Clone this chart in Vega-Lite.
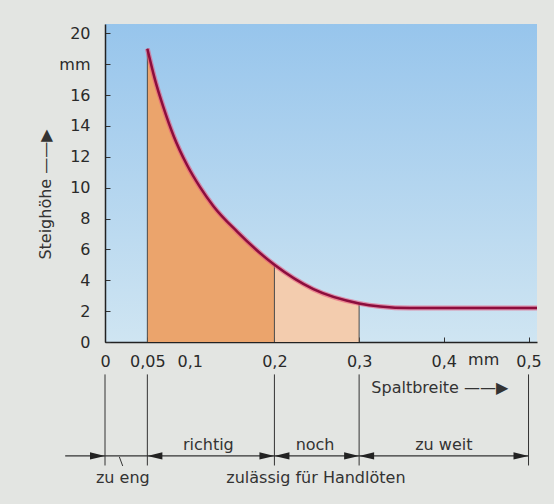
{
  "$schema": "https://vega.github.io/schema/vega-lite/v6.json",
  "width": 432,
  "height": 318,
  "autosize": {"type": "none"},
  "padding": {"left": 105, "top": 24, "right": 17, "bottom": 162},
  "background": "#e3e5e2",
  "config": {
    "font": "DejaVu Sans",
    "view": {"stroke": null},
    "axis": {"labelOverlap": false, "labelBound": false, "labelFlush": false},
    "axisY": {"labelOverlap": false, "tickCount": 11},
    "axisQuantitative": {"labelOverlap": false}
  },
  "view": {
    "stroke": null,
    "fill": {
      "gradient": "linear", "x1": 0, "y1": 0, "x2": 0, "y2": 1,
      "stops": [{"offset": 0, "color": "#97c5ec"}, {"offset": 1, "color": "#cfe5f2"}]
    }
  },
  "datasets": {
    "curve": [
      {"x": 0.05, "y": 19.0}, {"x": 0.059, "y": 17.0}, {"x": 0.069, "y": 15.2},
      {"x": 0.081, "y": 13.35}, {"x": 0.097, "y": 11.45}, {"x": 0.112, "y": 10.05},
      {"x": 0.128, "y": 8.8}, {"x": 0.156, "y": 7.15}, {"x": 0.2, "y": 5.0},
      {"x": 0.246, "y": 3.42}, {"x": 0.3, "y": 2.5}, {"x": 0.325, "y": 2.3},
      {"x": 0.36, "y": 2.2}, {"x": 0.4, "y": 2.2}, {"x": 0.45, "y": 2.2}, {"x": 0.51, "y": 2.2}
    ],
    "bounds": [{"x": 0.05, "y": 19.0}, {"x": 0.2, "y": 5.0}, {"x": 0.3, "y": 2.5}],
    "below": [{"x": 0}, {"x": 0.05}, {"x": 0.2}, {"x": 0.3}, {"x": 0.5}],
    "arrows": [
      {"x": 0, "dir": "r"}, {"x": 0.05, "dir": "l"}, {"x": 0.2, "dir": "r"},
      {"x": 0.2, "dir": "l"}, {"x": 0.3, "dir": "r"}, {"x": 0.3, "dir": "l"}, {"x": 0.5, "dir": "r"}
    ],
    "upper": [{"label": "richtig", "x": 0.122}, {"label": "noch", "x": 0.248}, {"label": "zu weit", "x": 0.4}],
    "lower": [{"label": "zu eng", "x": 0.021}, {"label": "zulässig für Handlöten", "x": 0.249}]
  },
  "layer": [
    {
      "data": {"name": "curve"},
      "transform": [{"filter": "datum.x <= 0.2"}],
      "mark": {"type": "area", "color": "#eba46c", "interpolate": "monotone", "opacity": 1},
      "encoding": {
        "x": {
          "field": "x", "type": "quantitative",
          "scale": {"domain": [0, 0.51], "nice": false, "zero": false},
          "axis": {
            "values": [0, 0.05, 0.1, 0.2, 0.3, 0.4, 0.5], "format": ".2~f",
            "labelExpr": "replace(datum.label, '.', ',')", "title": null, "grid": false,
            "domainColor": "#222", "domainWidth": 1.5, "tickColor": "#333", "tickSize": -5,
            "labelFontSize": 16, "labelColor": "#2a2a2a", "labelPadding": 16,
            "labelFlush": false, "labelOverlap": false
          }
        },
        "y": {
          "field": "y", "type": "quantitative",
          "scale": {"domain": [0, 20.6], "nice": false},
          "axis": {
            "values": [0, 2, 4, 6, 8, 10, 12, 14, 16, 18, 20],
            "labelExpr": "datum.value == 18 ? 'mm' : datum.label",
            "title": "Steighöhe ——▶", "titleFontSize": 16, "titleFontWeight": "normal",
            "titleColor": "#333", "titleX": -60, "titleY": 170, "titleAlign": "center",
            "titleBaseline": "middle", "titleAngle": -90,
            "grid": false, "domainColor": "#222", "domainWidth": 1.5, "tickColor": "#333",
            "tickSize": -5, "labelFontSize": 16, "labelColor": "#2a2a2a", "labelPadding": 20,
            "labelFlush": false, "labelOverlap": false, "labelSeparation": 0
          }
        }
      }
    },
    {
      "data": {"name": "curve"},
      "transform": [{"filter": "datum.x >= 0.2 && datum.x <= 0.3"}],
      "mark": {"type": "area", "color": "#f3ccae", "interpolate": "monotone", "opacity": 1},
      "encoding": {
        "x": {"field": "x", "type": "quantitative"},
        "y": {"field": "y", "type": "quantitative"}
      }
    },
    {
      "data": {"name": "bounds"},
      "mark": {"type": "rule", "color": "#4a4a4a", "strokeWidth": 1},
      "encoding": {
        "x": {"field": "x", "type": "quantitative"},
        "y": {"field": "y", "type": "quantitative"},
        "y2": {"datum": 0}
      }
    },
    {
      "data": {"name": "curve"},
      "mark": {"type": "line", "color": "#e8577c", "strokeWidth": 5, "opacity": 0.6, "interpolate": "monotone"},
      "encoding": {
        "x": {"field": "x", "type": "quantitative"},
        "y": {"field": "y", "type": "quantitative"}
      }
    },
    {
      "data": {"name": "curve"},
      "mark": {"type": "line", "color": "#8c0d3d", "strokeWidth": 2.5, "interpolate": "monotone"},
      "encoding": {
        "x": {"field": "x", "type": "quantitative"},
        "y": {"field": "y", "type": "quantitative"}
      }
    },
    {
      "data": {"name": "below"},
      "mark": {"type": "rule", "color": "#333", "strokeWidth": 1},
      "encoding": {
        "x": {"field": "x", "type": "quantitative"},
        "y": {"datum": -2.1},
        "y2": {"datum": -8.0}
      }
    },
    {
      "data": {"values": [{}]},
      "mark": {"type": "rule", "color": "#333", "strokeWidth": 1.2},
      "encoding": {
        "x": {"datum": -0.047},
        "x2": {"datum": 0.5},
        "y": {"datum": -7.38}
      }
    },
    {
      "data": {"values": [{}]},
      "mark": {"type": "rule", "color": "#333", "strokeWidth": 1},
      "encoding": {
        "x": {"datum": 0.0169},
        "x2": {"datum": 0.0209},
        "y": {"datum": -7.44},
        "y2": {"datum": -8.03}
      }
    },
    {
      "data": {"name": "arrows"},
      "mark": {"type": "point", "filled": true, "opacity": 1, "color": "#222", "size": 900, "strokeWidth": 0},
      "encoding": {
        "x": {"field": "x", "type": "quantitative"},
        "y": {"datum": -7.38},
        "shape": {
          "field": "dir", "type": "nominal", "legend": null,
          "scale": {"domain": ["r", "l"], "range": ["M0,0L-1,-0.24L-1,0.24Z", "M0,0L1,-0.24L1,0.24Z"]}
        }
      }
    },
    {
      "data": {"name": "upper"},
      "mark": {"type": "text", "fontSize": 16, "color": "#333", "baseline": "middle", "align": "center"},
      "encoding": {
        "x": {"field": "x", "type": "quantitative"},
        "y": {"datum": -6.67},
        "text": {"field": "label"}
      }
    },
    {
      "data": {"name": "lower"},
      "mark": {"type": "text", "fontSize": 16, "color": "#333", "baseline": "middle", "align": "center"},
      "encoding": {
        "x": {"field": "x", "type": "quantitative"},
        "y": {"datum": -8.8},
        "text": {"field": "label"}
      }
    },
    {
      "data": {"values": [{"label": "Spaltbreite ——▶", "x": 0.3144}]},
      "mark": {"type": "text", "fontSize": 16, "color": "#333", "baseline": "middle", "align": "left"},
      "encoding": {
        "x": {"field": "x", "type": "quantitative"},
        "y": {"datum": -2.98},
        "text": {"field": "label"}
      }
    },
    {
      "data": {"values": [{"label": "mm", "x": 0.447}]},
      "mark": {"type": "text", "fontSize": 16, "color": "#2a2a2a", "baseline": "middle", "align": "center"},
      "encoding": {
        "x": {"field": "x", "type": "quantitative"},
        "y": {"datum": -1.17},
        "text": {"field": "label"}
      }
    }
  ]
}
